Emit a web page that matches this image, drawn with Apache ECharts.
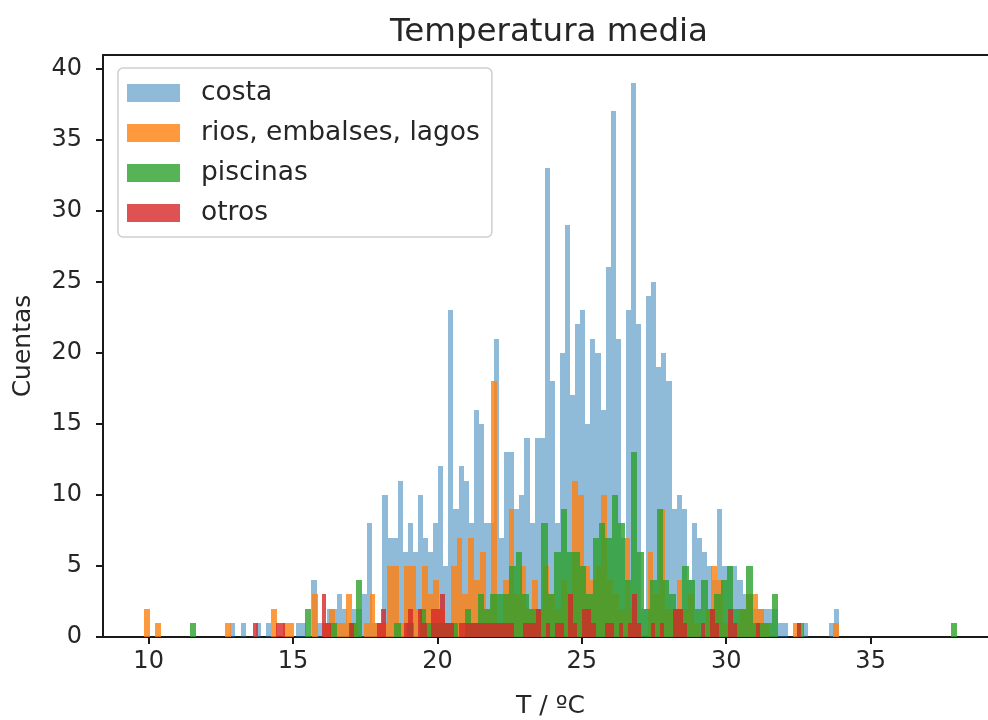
<!DOCTYPE html>
<html><head><meta charset="utf-8">
<script src="https://cdn.jsdelivr.net/npm/echarts@6/dist/echarts.min.js"></script>
<style>html,body{margin:0;padding:0;background:#fff;overflow:hidden}#c{width:988px;height:720px}</style>
</head><body><div id="c"></div>
<script>
// ---- data (each series: 120 equal-width bins over its own range) ----
const seriesNames = ['costa', 'rios, embalses, lagos', 'piscinas', 'otros'];
const costaRange = [12.83, 33.9];
const riosRange = [9.83, 33.9];
const piscinasRange = [11.42, 38.0];
const otrosRange = [13.62, 32.6];

const costaCounts = [
  1,0,1,0,0,1,0,1,0,0,
  0,0,0,1,1,0,4,1,1,2,
  2,3,2,1,2,2,3,8,1,1,
  10,7,7,11,6,8,6,10,7,6,
  8,12,5,23,9,12,11,8,16,15,
  8,8,21,7,13,13,9,10,14,8,
  14,14,33,18,8,20,29,17,22,23,
  15,21,20,16,26,37,21,7,23,39,
  22,2,24,25,19,20,18,9,10,9,
  4,8,7,6,5,4,9,5,5,5,
  4,3,3,2,2,2,2,2,1,1,
  0,0,0,1,0,0,0,0,1,2
];
const riosCounts = [
  2,0,1,0,0,0,0,0,0,0,
  0,0,0,0,1,0,0,0,0,0,
  0,0,2,0,1,1,0,0,0,3,
  0,1,2,1,1,3,1,0,1,3,
  1,1,5,5,1,5,5,2,5,3,
  4,2,1,5,7,3,7,4,6,2,
  18,1,4,9,3,5,2,4,2,5,
  3,2,4,3,11,10,5,4,5,10,
  4,3,2,7,2,1,0,6,3,9,
  2,2,4,2,3,1,0,2,5,4,
  1,0,1,2,3,3,2,1,0,0,
  0,0,1,0,0,0,0,0,0,1
];
const piscinasCounts = [
  1,0,0,0,0,0,0,0,0,0,
  0,0,0,0,0,0,0,0,2,0,
  0,0,1,0,0,1,4,0,0,0,
  0,0,1,0,1,0,2,1,1,1,
  1,1,0,2,1,3,2,3,3,3,
  5,6,3,2,2,8,3,6,9,6,
  6,5,3,7,8,7,10,8,4,13,
  6,2,4,9,4,3,2,5,4,2,
  4,2,3,4,5,2,2,5,1,1,
  1,3,0,0,0,1,0,0,0,0,
  0,0,0,0,0,0,0,0,0,0,
  0,0,0,0,0,0,0,0,0,1
];
const otrosCounts = [
  1,0,0,0,0,1,1,0,0,0,
  0,0,0,0,0,3,1,0,0,0,
  0,1,0,0,0,0,0,1,2,0,
  0,0,0,1,2,0,2,1,0,2,
  2,3,1,1,0,1,1,1,1,1,
  1,1,1,1,1,1,1,0,0,1,
  1,1,2,0,1,0,1,1,0,3,
  1,0,2,2,1,0,0,1,1,0,
  1,0,1,3,1,0,0,1,0,1,
  0,0,2,2,1,0,0,0,1,0,
  2,1,0,0,2,1,0,0,0,0,
  1,0,0,0,0,0,0,0,0,1
];

const xTicks = [10, 15, 20, 25, 30, 35];
const yTicks = [0, 5, 10, 15, 20, 25, 30, 35, 40];

// ---- chart ----
const FONT = 'DejaVu Sans';
const TXT = '#262626';
const colors = ['rgba(31,119,180,0.5)', 'rgba(255,127,14,0.8)', 'rgba(44,160,44,0.8)', 'rgba(214,39,40,0.8)'];

function makeBins(range, counts) {
  const w = (range[1] - range[0]) / counts.length;
  const out = [];
  counts.forEach((c, i) => { if (c > 0) out.push([range[0] + i * w, range[0] + (i + 1) * w, c]); });
  return out;
}
function renderBar(params, api) {
  const p0 = api.coord([api.value(0), api.value(2)]);
  const p1 = api.coord([api.value(1), 0]);
  const x0 = Math.round(p0[0]), x1 = Math.round(p1[0]);
  const y0 = Math.round(p0[1]), y1 = Math.round(p1[1]);
  return { type: 'rect', shape: { x: x0, y: y0, width: Math.max(1, x1 - x0), height: y1 - y0 },
           style: { fill: api.visual('color') } };
}
const ranges = [costaRange, riosRange, piscinasRange, otrosRange];
const counts = [costaCounts, riosCounts, piscinasCounts, otrosCounts];

const X_MIN = 8.42, X_MAX = 39.41, Y_MAX = 40.95;
const axisLineStyle = { color: '#1a1a1a', width: 2 };

const chart = echarts.init(document.getElementById('c'), null, { renderer: 'canvas' });
chart.setOption({
  animation: false,
  backgroundColor: '#ffffff',
  title: {
    text: 'Temperatura media', left: 549, top: 16, textAlign: 'center', padding: 0,
    textStyle: { fontFamily: FONT, fontSize: 32.5, fontWeight: 'normal', color: TXT }
  },
  legend: {
    orient: 'vertical', left: 118, top: 68,
    itemWidth: 53, itemHeight: 18, itemGap: 12, icon: 'rect',
    padding: [11, 12, 10, 9],
    backgroundColor: '#ffffff', borderColor: '#cfcfcf', borderWidth: 1.5, borderRadius: 5,
    textStyle: { fontFamily: FONT, fontSize: 26.5, color: TXT, lineHeight: 28, padding: [0, 0, 0, 16] },
    data: seriesNames
  },
  grid: { left: 103, top: 55, right: -10, bottom: 83, containLabel: false, outerBoundsMode: 'none' },
  xAxis: [{
    type: 'value', min: X_MIN, max: X_MAX, position: 'bottom',
    axisLine: { show: true, onZero: false, lineStyle: axisLineStyle },
    axisTick: { show: true, customValues: xTicks, length: 7, lineStyle: axisLineStyle },
    axisLabel: { customValues: xTicks, fontFamily: FONT, fontSize: 24, color: TXT, margin: 13 },
    splitLine: { show: false },
    name: 'T / ºC', nameLocation: 'middle', nameGap: 57,
    nameTextStyle: { fontFamily: FONT, fontSize: 25, color: TXT }
  }, {
    type: 'value', min: X_MIN, max: X_MAX, position: 'top',
    axisLine: { show: true, onZero: false, lineStyle: axisLineStyle },
    axisTick: { show: false }, axisLabel: { show: false }, splitLine: { show: false }
  }],
  yAxis: {
    type: 'value', min: 0, max: Y_MAX,
    axisLine: { show: true, onZero: false, lineStyle: axisLineStyle },
    axisTick: { show: true, customValues: yTicks, length: 7, lineStyle: axisLineStyle },
    axisLabel: { customValues: yTicks, fontFamily: FONT, fontSize: 24, color: TXT, margin: 21 },
    splitLine: { show: false },
    name: 'Cuentas', nameLocation: 'middle', nameGap: 67, nameRotate: 90,
    nameTextStyle: { fontFamily: FONT, fontSize: 25, color: TXT }
  },
  series: seriesNames.map((name, i) => ({
    name: name, type: 'custom', xAxisIndex: 0, yAxisIndex: 0,
    itemStyle: { color: colors[i] },
    renderItem: renderBar,
    encode: { x: [0, 1], y: 2 },
    data: makeBins(ranges[i], counts[i]),
    silent: true
  }))
});
</script>
</body></html>
